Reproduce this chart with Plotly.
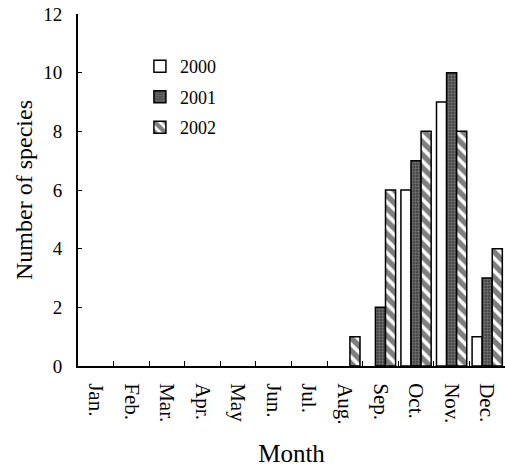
import plotly.graph_objects as go

months = ["Jan.", "Feb.", "Mar.", "Apr.", "May", "Jun.", "Jul.", "Aug.", "Sep.", "Oct.", "Nov.", "Dec."]
y2000 = [0, 0, 0, 0, 0, 0, 0, 0, 0, 6, 9, 1]
y2001 = [0, 0, 0, 0, 0, 0, 0, 0, 2, 7, 10, 3]
y2002 = [0, 0, 0, 0, 0, 0, 0, 1, 6, 8, 8, 4]

font = "Liberation Serif, Times New Roman, serif"


def nz(vals):
    return [v if v != 0 else None for v in vals]


fig = go.Figure()
fig.add_bar(x=months, y=nz(y2000), name="2000", legendgroup="a",
            marker=dict(color="white", line=dict(color="black", width=1.5)))
fig.add_bar(x=months, y=nz(y2001), name="2001", legendgroup="b",
            marker=dict(color="#4a4a4a", line=dict(color="black", width=1.5),
                        pattern=dict(shape="+", fgcolor="#b0b0b0", bgcolor="#4a4a4a", size=3, solidity=0.3)))
fig.add_bar(x=months, y=nz(y2002), name="2002", legendgroup="c",
            marker=dict(color="white", line=dict(color="black", width=1.5),
                        pattern=dict(shape="\\", fgcolor="black", bgcolor="white", size=9, solidity=0.6)))

fig.update_layout(
    width=505, height=467,
    margin=dict(l=78, r=0, t=14, b=101, autoexpand=False),
    paper_bgcolor="white", plot_bgcolor="white",
    barmode="group", bargap=0.15, bargroupgap=0,
    font=dict(family=font, color="black", size=19),
    showlegend=True,
    legend=dict(x=0.145, y=0.903, xanchor="left", yanchor="top",
                bgcolor="rgba(0,0,0,0)", font=dict(size=18, family=font),
                traceorder="grouped", tracegroupgap=4, itemwidth=30),
    xaxis=dict(
        tickangle=90, showline=True, linecolor="black", linewidth=2,
        ticks="inside", ticklen=5, tickson="boundaries", tickcolor="black",
        showgrid=False, range=[-0.5, 11.5], automargin=True,
        ticklabelstandoff=11,
        tickfont=dict(size=21, family=font),
        title=dict(text="Month", font=dict(size=25, family=font), standoff=23),
    ),
    yaxis=dict(
        range=[0, 12], dtick=2, showline=True, linecolor="black", linewidth=2,
        ticks="inside", ticklen=4, tickcolor="black", showgrid=False, zeroline=False,
        automargin=True, ticklabelstandoff=10,
        tickfont=dict(size=19, family=font),
        title=dict(text="Number of species", font=dict(size=24, family=font), standoff=4),
    ),
)

fig.write_html("out.html", config={"displayModeBar": False},
               post_script="document.body.style.margin='0';document.body.style.padding='0';document.body.style.overflow='hidden';")
